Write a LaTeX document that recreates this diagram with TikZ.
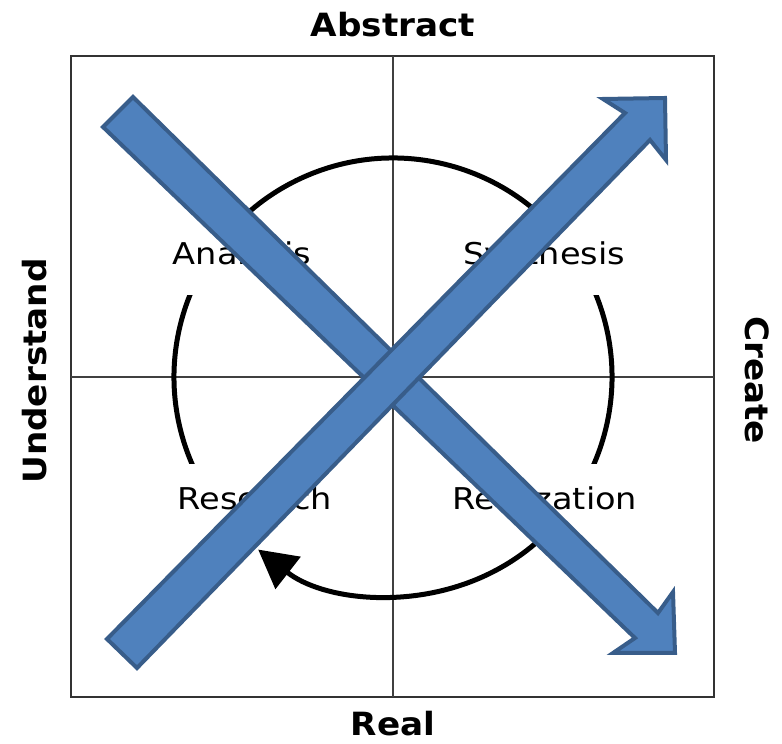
\documentclass[tikz,border=0pt]{standalone}
\usepackage{fontspec}
\usepackage{graphicx}
\setmainfont{DejaVu Sans}
\usetikzlibrary{arrows.meta}
\definecolor{arrowfill}{HTML}{4F81BD}
\definecolor{arrowline}{HTML}{385D8A}
\begin{document}
\begin{tikzpicture}[x=1pt,y=1pt,
  frame/.style={draw=black!80, line width=2pt},
  axisline/.style={draw=black!75, line width=1.5pt},
  cyclearc/.style={line width=5pt, -{Triangle[length=38pt,width=40pt]}},
  quad/.style={fill=white, inner xsep=2pt, inner ysep=24pt, text height=22pt, text depth=6pt, anchor=base, font=\fontsize{30}{36}\selectfont},
  side/.style={font=\fontsize{32}{38}\selectfont\bfseries, inner sep=1pt},
  bigarrow/.style={fill=arrowfill, draw=arrowline, line width=4pt, line join=miter}
]
\useasboundingbox (0,0) rectangle (782,744);
% frame and axes
\coordinate (F1) at (71,47);
\coordinate (F2) at (714,688);
\draw[frame] (F1) rectangle (F2);
\coordinate (VT) at (393,688);
\coordinate (VB) at (393,47);
\coordinate (HL) at (71,367);
\coordinate (HR) at (714,367);
\draw[axisline] (VT) -- (VB);
\draw[axisline] (HL) -- (HR);
% cycle
\coordinate (C) at (393,367);
\draw[cyclearc] (C) ++(204.5:219) arc[start angle=204.5, end angle=-128, radius=219];
% quadrant labels
\node[quad] (analysis) at (242,479) {\scalebox{1.12}[1]{Analysis}};
\node[quad] (synthesis) at (544,479) {\scalebox{1.12}[1]{Synthesis}};
\node[quad] (research) at (255,234) {\scalebox{1.12}[1]{Research}};
\node[quad] (realization) at (545,234) {\scalebox{1.12}[1]{Realization}};
% side labels
\node[side] (abstract) at (393,719) {\scalebox{1.07}[1]{Abstract}};
\node[side] (real) at (393,20) {\scalebox{1.07}[1]{Real}};
\node[side, rotate=90] (understand) at (35,373) {\scalebox{1.07}[1]{Understand}};
\node[side, rotate=-90] (create) at (757,364) {\scalebox{1.07}[1]{Create}};
% big arrows
\draw[bigarrow] (133,647) -- (658,131) -- (673,152) -- (675,91) -- (613,91) -- (635,106) -- (103,617) -- cycle;
\draw[bigarrow] (107,105) -- (625,631) -- (603,645) -- (665,646) -- (666,584) -- (650,604) -- (137,76) -- cycle;
\end{tikzpicture}
\end{document}
